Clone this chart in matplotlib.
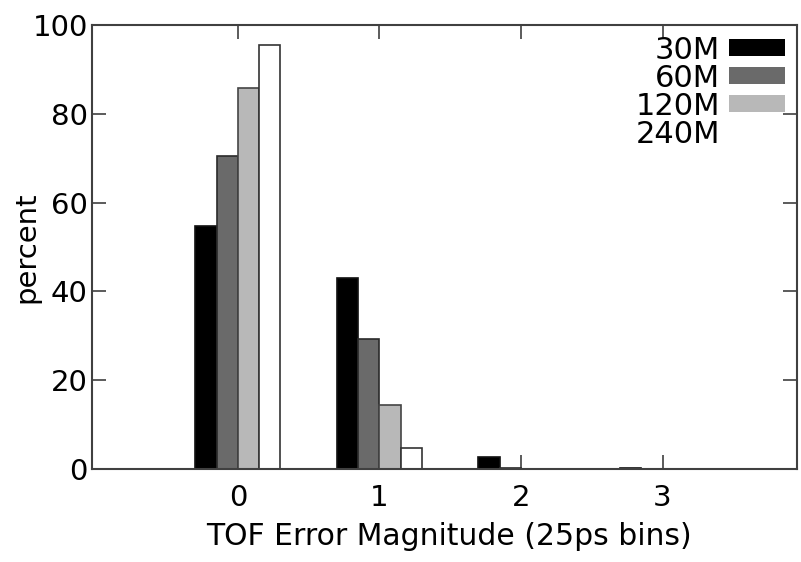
import numpy as np
import matplotlib
matplotlib.use("Agg")
import matplotlib.pyplot as plt
from matplotlib.patches import Rectangle

# error magnitude bins (25ps)
bins = [0, 1, 2, 3]
series = ["30M", "60M", "120M", "240M"]
pct_30m = [54.7, 43.0, 2.7, 0.2]
pct_60m = [70.5, 29.3, 0.3, 0.1]
pct_120m = [85.8, 14.4, 0.05, 0.0]
pct_240m = [95.5, 4.7, 0.0, 0.0]
yticks = [0, 20, 40, 60, 80, 100]

fills = ["#000000", "#6a6a6a", "#b8b8b8", "#ffffff"]
edges = ["#111111", "#2a2a2a", "#444444", "#333333"]

plt.rcParams["font.family"] = "DejaVu Sans"
fig = plt.figure(figsize=(8.01, 5.62), dpi=100)
W, H = 801, 562
ax = fig.add_axes([92 / W, 1 - 469 / H, 705 / W, 444 / H])

x = np.array(bins, dtype=float)
w = 0.15
for k, vals in enumerate([pct_30m, pct_60m, pct_120m, pct_240m]):
    ax.bar(x + (k - 1.5) * w, vals, width=w, color=fills[k],
           edgecolor=edges[k], linewidth=1.2, zorder=2)

ax.set_xlim(-1.03, 3.95)
ax.set_ylim(0, 100)
ax.set_xticks(bins)
ax.set_yticks(yticks)
ax.tick_params(direction="in", length=10, width=1.2, color="#404040",
               top=True, right=True, labelsize=21)
ax.tick_params(axis="x", pad=11)
ax.tick_params(axis="y", pad=3)
for s in ax.spines.values():
    s.set_color("#404040")
    s.set_linewidth(1.5)

ax.set_xlabel("TOF Error Magnitude (25ps bins)", fontsize=21.5, va="baseline")
ax.xaxis.set_label_coords((449 - 92) / 705, -(545 - 469) / 444)
ax.set_ylabel("percent", fontsize=21)
ax.yaxis.set_label_coords((40 - 92) / 705, 0.5)

# legend: label right-aligned, swatch to the right (gnuplot style)
for k, name in enumerate(series):
    yc = 47.5 + 28 * k
    fig.text(720 / W, 1 - yc / H, name, ha="right", va="center_baseline",
             fontsize=22)
    fig.patches.append(Rectangle((729 / W, 1 - (yc + 8.5) / H), 56 / W, 17 / H,
                                 transform=fig.transFigure, facecolor=fills[k],
                                 edgecolor="none"))

fig.savefig("out.png", dpi=100)
